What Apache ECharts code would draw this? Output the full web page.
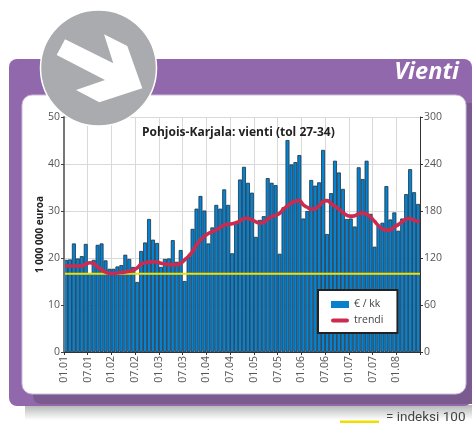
<!DOCTYPE html>
<html><head><meta charset="utf-8">
<style>html,body{margin:0;padding:0;background:#fff}#c{width:472px;height:423px}</style>
<script src="https://cdn.jsdelivr.net/npm/echarts@6/dist/echarts.min.js"></script>
</head><body><div id="c"></div>
<script>
var vientiValues = [
 19.6,19.7,23.1,19.9,20.4,23.0,16.8,19.6,22.8,23.1,
 19.5,17.7,17.7,18.2,18.5,20.7,19.8,18.1,14.9,21.5,
 23.3,28.3,23.9,23.2,18.1,19.8,19.9,23.8,19.2,21.7,
 15.1,20.3,26.2,30.5,33.2,30.1,23.1,26.5,31.3,30.5,
 34.6,31.3,21.0,27.7,36.7,39.4,36.0,33.9,24.5,28.1,
 28.9,37.0,36.0,35.5,20.9,30.8,45.1,39.9,40.4,41.9,
 28.4,30.0,36.6,35.4,36.1,43.0,25.1,33.8,40.7,38.2,
 34.7,28.3,28.4,26.7,39.3,36.8,40.7,29.4,22.4,26.9,
 27.5,35.3,28.2,29.7,25.8,28.4,33.6,38.9,34.0,31.5];
var trendiValues = [
 18.3,18.3,18.3,18.3,18.3,18.7,19.0,18.8,18.1,17.5,
 17.0,16.7,16.7,16.8,16.9,17.0,17.2,17.4,17.9,18.7,
 19.0,19.1,19.2,19.1,18.9,18.7,18.6,18.6,18.6,18.9,
 19.6,20.4,21.4,22.8,23.8,24.6,25.2,25.6,26.0,26.5,
 27.0,27.2,27.3,27.5,27.9,28.4,28.4,28.1,27.7,27.4,
 27.6,28.3,28.8,29.1,29.5,30.4,31.1,31.7,32.1,32.2,
 31.3,30.8,30.4,30.5,31.1,32.0,32.2,31.6,31.0,30.4,
 29.7,29.1,28.9,29.0,29.4,29.6,29.3,28.7,27.8,26.9,
 26.2,25.9,26.0,26.6,27.1,27.7,28.3,28.4,28.0,27.8];
var indexLevel = 100;
var tickLabels = ['01.01','07.01','01.02','07.02','01.03','07.03','01.04','07.04','01.05','07.05','01.06','07.06','01.07','07.07','01.08'];
var leftTicks = {min:0,max:50,interval:10};
var rightTicks = {min:0,max:300,interval:60};

// one band per month for the bars, one boundary per month for the labels
var monthBands = vientiValues.map(function(_,i){return 'm'+i;});
var monthEdges = vientiValues.map(function(_,i){return i%6===0?tickLabels[i/6]:'e'+i;}).concat(['end']);

var FONT = '"Open Sans","Noto Sans",sans-serif';
var LBL = '#555';
var chart = echarts.init(document.getElementById('c'),null,{renderer:'canvas'});
var grid = {left:64,right:52,top:117,bottom:71,show:false};
function edgeAxis(o){
  return Object.assign({type:'category',data:monthEdges,boundaryGap:false,position:'bottom',
    axisLine:{show:false},axisTick:{show:false},axisLabel:{show:false},splitLine:{show:false}},o);
}
chart.setOption({
  animation:false,
  backgroundColor:'#fff',
  title:{text:'Pohjois-Karjala: vienti (tol 27-34)',left:142,top:127,padding:0,
    textStyle:{fontFamily:FONT,fontSize:12,fontWeight:'bold',color:'#222'}},
  grid:grid,
  legend:{orient:'vertical',left:318,top:290,padding:[9,14,7,13],itemGap:5,
    backgroundColor:'#fff',borderColor:'#222',borderWidth:2,itemWidth:18,itemHeight:7,
    textStyle:{fontFamily:FONT,fontSize:10.5,color:'#444'},
    data:[{name:'€ / kk',icon:'rect',itemStyle:{borderWidth:0,color:'#0A80CC'}},
      {name:'trendi',icon:'path://M0 0L0 0M0 7L0 7M2 1.5H16A2 2 0 0 1 16 5.5H2A2 2 0 0 1 2 1.5Z',
       itemStyle:{color:'#CC2B50'},lineStyle:{width:0}}]},
  xAxis:[
    {type:'category',data:monthBands,boundaryGap:true,axisLine:{show:false},axisTick:{show:false},axisLabel:{show:false},splitLine:{show:false}},
    edgeAxis({z:5,axisLine:{show:true,onZero:false,lineStyle:{color:'#333',width:1}},
      axisTick:{show:true,interval:5,length:3,lineStyle:{color:'#333'}},
      axisLabel:{show:true,rotate:90,interval:function(i){return i%6===0&&i<90;},margin:4,
        fontFamily:FONT,fontSize:10.5,color:LBL}}),
    edgeAxis({z:0,splitLine:{show:true,interval:5,lineStyle:{color:'#d9d9d9',width:1}}})
  ],
  yAxis:[
    {type:'value',min:leftTicks.min,max:leftTicks.max,interval:leftTicks.interval,position:'left',z:5,
      name:'1 000 000 euroa',nameLocation:'middle',nameGap:24,nameRotate:90,nameMoveOverlap:false,
      nameTextStyle:{fontFamily:FONT,fontSize:10,fontWeight:'bold',color:'#222',verticalAlign:'middle'},
      axisLine:{show:true,lineStyle:{color:'#777',width:2}},axisTick:{show:true,length:3,lineStyle:{color:'#444'}},
      axisLabel:{margin:4,fontFamily:FONT,fontSize:10.5,color:LBL},splitLine:{show:false}},
    {type:'value',min:rightTicks.min,max:rightTicks.max,interval:rightTicks.interval,position:'right',z:5,
      axisLine:{show:true,lineStyle:{color:'#333',width:1}},axisTick:{show:true,length:3,lineStyle:{color:'#333'}},
      axisLabel:{margin:4,fontFamily:FONT,fontSize:10.5,color:LBL},splitLine:{show:false}},
    {type:'value',min:leftTicks.min,max:leftTicks.max,interval:leftTicks.interval,position:'left',z:0,
      axisLine:{show:false},axisTick:{show:false},axisLabel:{show:false},
      splitLine:{show:true,lineStyle:{color:'#d9d9d9',width:1}}}
  ],
  series:[
    {name:'€ / kk',type:'bar',xAxisIndex:0,yAxisIndex:0,data:vientiValues,barWidth:'100%',z:2,
      itemStyle:{color:'#0583D2',borderColor:'#1d3242',borderWidth:0.8}},
    {name:'indeksi',type:'line',xAxisIndex:1,yAxisIndex:1,symbol:'none',z:3,
      data:[[monthEdges[0],indexLevel],[monthEdges[90],indexLevel]],
      lineStyle:{color:'#F2E100',width:2}},
    {name:'trendi',type:'line',xAxisIndex:0,yAxisIndex:0,data:trendiValues,smooth:true,symbol:'none',z:4,
      lineStyle:{color:'#CC2B50',width:3.6,cap:'round'},itemStyle:{color:'#CC2B50'}}
  ],
  graphic:{elements:[
    {type:'rect',z:-9,shape:{x:25,y:405,width:447,height:15},
      style:{fill:new echarts.graphic.LinearGradient(0,0,0,1,[{offset:0,color:'#b4b6b6'},{offset:1,color:'#ffffff'}])}},
    {type:'rect',z:-8,shape:{x:9,y:59,width:463,height:347,r:8},style:{fill:'#9268AC'}},
    {type:'rect',z:-7,shape:{x:33,y:103,width:439,height:301,r:[0,0,0,8]},style:{fill:'#7B5A90'}},
    {type:'rect',z:-6,shape:{x:22,y:95,width:444,height:299,r:10},style:{fill:'#fff',stroke:'#cbbcd6',lineWidth:1}},
    {type:'text',z:-5,style:{text:'Vienti',x:459,y:72,align:'right',verticalAlign:'middle',fill:'#fff',
      font:'italic bold 23.5px '+FONT}},
    {type:'circle',z:1,shape:{cx:98.5,cy:68,r:58},style:{fill:'#A9ABAE',stroke:'#fff',lineWidth:1.5}},
    {type:'polygon',z:1,shape:{points:[[65,39.3],[113.3,63.3],[104,34.3],[127.3,46],[142.3,88.3],[99.3,102.3],[76,90],[105,80],[56.7,55]]},style:{fill:'#fff'}},
    {type:'rect',z:1,shape:{x:340,y:420.5,width:39,height:3},style:{fill:'#EFDF00'}},
    {type:'text',z:1,style:{text:'= indeksi 100',x:386,y:417.5,align:'left',verticalAlign:'middle',fill:'#444',font:'13.5px Roboto,sans-serif'}}
  ]}
});
</script></body></html>
